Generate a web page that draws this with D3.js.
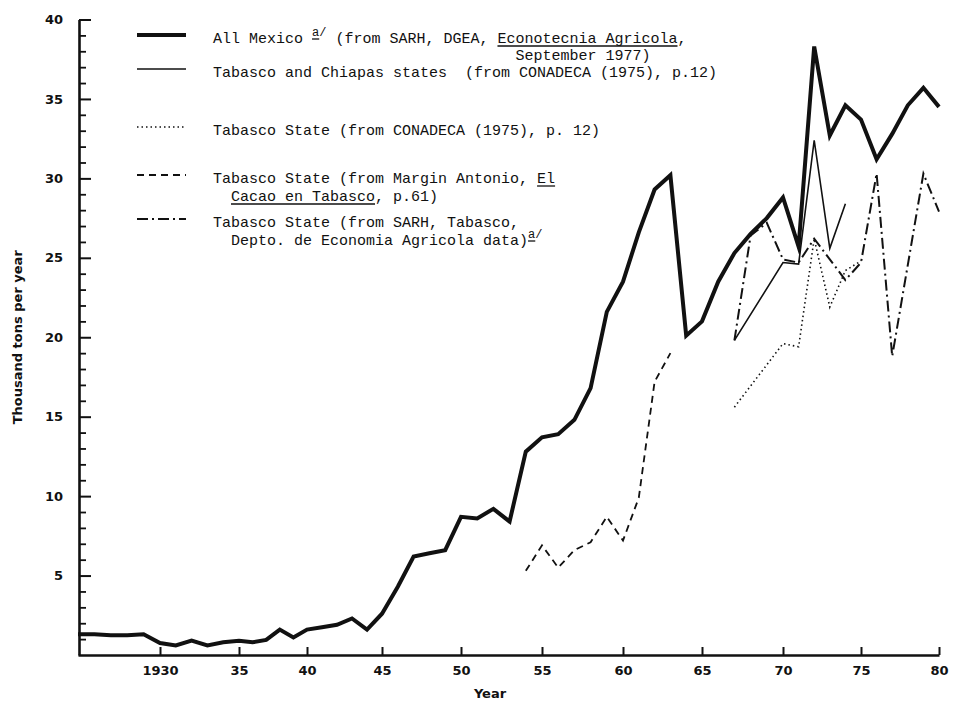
<!DOCTYPE html>
<html>
<head>
<meta charset="utf-8">
<script src="https://cdn.jsdelivr.net/npm/d3@7"></script>
<style>
  body { margin: 0; background: #fff; }
  text { fill: #111; }
</style>
</head>
<body>
<div id="chart"></div>
<script>
// ---- data (thousand tons per year) ----
const mexicoYears = d3.range(1925, 1981);
const mexicoValues = [
  1.3, 1.3, 1.25, 1.25, 1.3, 0.75, 0.6, 0.9, 0.6, 0.8,
  0.9, 0.8, 0.95, 1.6, 1.1, 1.6, 1.75, 1.9, 2.3, 1.6,
  2.6, 4.3, 6.2, 6.4, 6.6, 8.7, 8.6, 9.2, 8.4, 12.8,
  13.7, 13.9, 14.8, 16.8, 21.6, 23.5, 26.6, 29.3, 30.2, 20.1,
  21.0, 23.5, 25.3, 26.5, 27.5, 28.8, 25.7, 38.3, 32.7, 34.6,
  33.7, 31.2, 32.8, 34.6, 35.7, 34.5
];
const tabChiYears = [1967, 1970, 1971, 1972, 1973, 1974];
const tabChiValues = [19.8, 24.7, 24.6, 32.4, 25.6, 28.4];
const conadecaYears = [1967, 1970, 1971, 1972, 1973, 1974, 1975];
const conadecaValues = [15.6, 19.6, 19.4, 26.2, 21.9, 24.2, 24.8];
const marginYears = [1954, 1955, 1956, 1957, 1958, 1959, 1960, 1961, 1962, 1963];
const marginValues = [5.3, 6.9, 5.5, 6.6, 7.1, 8.7, 7.2, 9.9, 17.2, 19.0];
const sarhYears = [1967, 1968, 1969, 1970, 1971, 1972, 1973, 1974, 1975, 1976, 1977, 1979, 1980];
const sarhValues = [19.8, 26.4, 27.2, 24.9, 24.7, 26.2, 24.9, 23.6, 24.7, 30.3, 18.8, 30.3, 27.9];

const xTickYears = [1930, 1935, 1940, 1945, 1950, 1955, 1960, 1965, 1970, 1975, 1980];
const xTickLabels = ["1930", "35", "40", "45", "50", "55", "60", "65", "70", "75", "80"];
const yTickValues = [5, 10, 15, 20, 25, 30, 35, 40];

const width = 953, height = 704;

const svg = d3.select("#chart").append("svg")
  .attr("width", width)
  .attr("height", height);

// the printed axis is hand ruled, so the year scale follows its ticks
const x = d3.scaleLinear()
  .domain([1925].concat(xTickYears))
  .range([78, 160, 239, 307, 382, 461, 542, 623, 702, 783, 861, 939]);

const y = d3.scaleLinear()
  .domain([0, 40])
  .range([655, 19.5]);

// ---- axes ----
const minorY = d3.range(1, 40).filter(d => d % 5 !== 0);

svg.append("g")
  .attr("transform", "translate(79,0)")
  .call(d3.axisLeft(y).tickValues(minorY).tickSize(-7).tickSizeOuter(0).tickFormat(""))
  .call(g => g.select(".domain").remove())
  .call(g => g.selectAll("line").attr("stroke", "#111").attr("stroke-width", 1.8));

const yAxis = svg.append("g")
  .attr("transform", "translate(79,0)")
  .call(d3.axisLeft(y).tickValues(yTickValues).tickSize(-12).tickSizeOuter(0).tickPadding(16));

const xAxis = svg.append("g")
  .attr("transform", "translate(0," + y(0) + ")")
  .call(d3.axisBottom(x).tickValues(xTickYears).tickSize(-8).tickSizeOuter(0).tickPadding(11)
    .tickFormat((d, i) => xTickLabels[i]));

[yAxis, xAxis].forEach(g => {
  g.select(".domain").attr("stroke", "#111").attr("stroke-width", 2.6);
  g.selectAll(".tick line").attr("stroke", "#111").attr("stroke-width", 2);
  g.selectAll(".tick text")
    .attr("fill", "#111")
    .style("font-family", "'DejaVu Sans', sans-serif")
    .style("font-weight", "bold")
    .style("font-size", "13px");
});

svg.append("text")
  .attr("transform", "translate(22," + y(20) + ") rotate(-90)")
  .attr("text-anchor", "middle")
  .style("font-family", "'DejaVu Sans', sans-serif")
  .style("font-weight", "bold")
  .style("font-size", "13px")
  .text("Thousand tons per year");

svg.append("text")
  .attr("x", 490)
  .attr("y", 698)
  .attr("text-anchor", "middle")
  .style("font-family", "'DejaVu Sans', sans-serif")
  .style("font-weight", "bold")
  .style("font-size", "13px")
  .text("Year");

// ---- series ----
const line = d3.line()
  .x(d => x(d[0]))
  .y(d => y(d[1]));

const styles = {
  mexico: { width: 4, dash: null },
  tabChi: { width: 1.6, dash: null },
  conadeca: { width: 1.6, dash: "1.5,3" },
  margin: { width: 1.8, dash: "7,5" },
  sarh: { width: 2, dash: "11,4,2,4" }
};

const series = [
  { key: "sarh", data: d3.zip(sarhYears, sarhValues) },
  { key: "conadeca", data: d3.zip(conadecaYears, conadecaValues) },
  { key: "margin", data: d3.zip(marginYears, marginValues) },
  { key: "tabChi", data: d3.zip(tabChiYears, tabChiValues) },
  { key: "mexico", data: d3.zip(mexicoYears, mexicoValues) }
];

svg.append("g").selectAll("path")
  .data(series)
  .enter()
  .append("path")
  .attr("d", d => line(d.data))
  .attr("fill", "none")
  .attr("stroke", "#111")
  .attr("stroke-width", d => styles[d.key].width)
  .attr("stroke-dasharray", d => styles[d.key].dash)
  .attr("stroke-linejoin", "miter")
  .attr("stroke-miterlimit", 6);

// ---- legend ----
const legend = svg.append("g")
  .style("font-family", "'Liberation Mono', monospace");

const textX = 213, indentX = 231;

function writeRuns(xStart, yMid, runs) {
  let cx = xStart;
  const marks = {};
  runs.forEach(r => {
    const base = yMid + 5 + (r.sup ? -7 : 0);
    const t = legend.append("text")
      .attr("xml:space", "preserve")
      .attr("x", cx)
      .attr("y", base)
      .style("font-size", r.sup ? "12px" : "15px")
      .text(r.t);
    const w = t.node().getComputedTextLength();
    if (r.name) marks[r.name] = cx;
    if (r.ul) {
      legend.append("line")
        .attr("x1", cx).attr("x2", cx + w)
        .attr("y1", base + 3).attr("y2", base + 3)
        .attr("stroke", "#111").attr("stroke-width", 1.3);
    }
    cx += w;
  });
  return marks;
}

const legendItems = [
  { key: "mexico", y: 38 },
  { key: "tabChi", y: 72 },
  { key: "conadeca", y: 130 },
  { key: "margin", y: 178 },
  { key: "sarh", y: 222 }
];

legend.selectAll("line.key")
  .data(legendItems)
  .enter()
  .append("line")
  .attr("class", "key")
  .attr("x1", 137).attr("x2", 186)
  .attr("y1", d => d.y - 3).attr("y2", d => d.y - 3)
  .attr("stroke", "#111")
  .attr("stroke-width", d => styles[d.key].width)
  .attr("stroke-dasharray", d => styles[d.key].dash);

const m1 = writeRuns(textX, 38, [
  { t: "All Mexico " },
  { t: "a", sup: true, ul: true },
  { t: "/", sup: true },
  { t: " (from SARH, DGEA, " },
  { t: "Econotecnia Agricola", ul: true, name: "econ" },
  { t: "," }
]);
writeRuns(m1.econ + 18, 55, [{ t: "September 1977)" }]);
writeRuns(textX, 72, [{ t: "Tabasco and Chiapas states  (from CONADECA (1975), p.12)" }]);
writeRuns(textX, 130, [{ t: "Tabasco State (from CONADECA (1975), p. 12)" }]);
writeRuns(textX, 178, [
  { t: "Tabasco State (from Margin Antonio, " },
  { t: "El", ul: true }
]);
writeRuns(indentX, 196, [
  { t: "Cacao en Tabasco", ul: true },
  { t: ", p.61)" }
]);
writeRuns(textX, 222, [{ t: "Tabasco State (from SARH, Tabasco," }]);
writeRuns(indentX, 240, [
  { t: "Depto. de Economia Agricola data)" },
  { t: "a", sup: true, ul: true },
  { t: "/", sup: true }
]);
</script>
</body>
</html>
